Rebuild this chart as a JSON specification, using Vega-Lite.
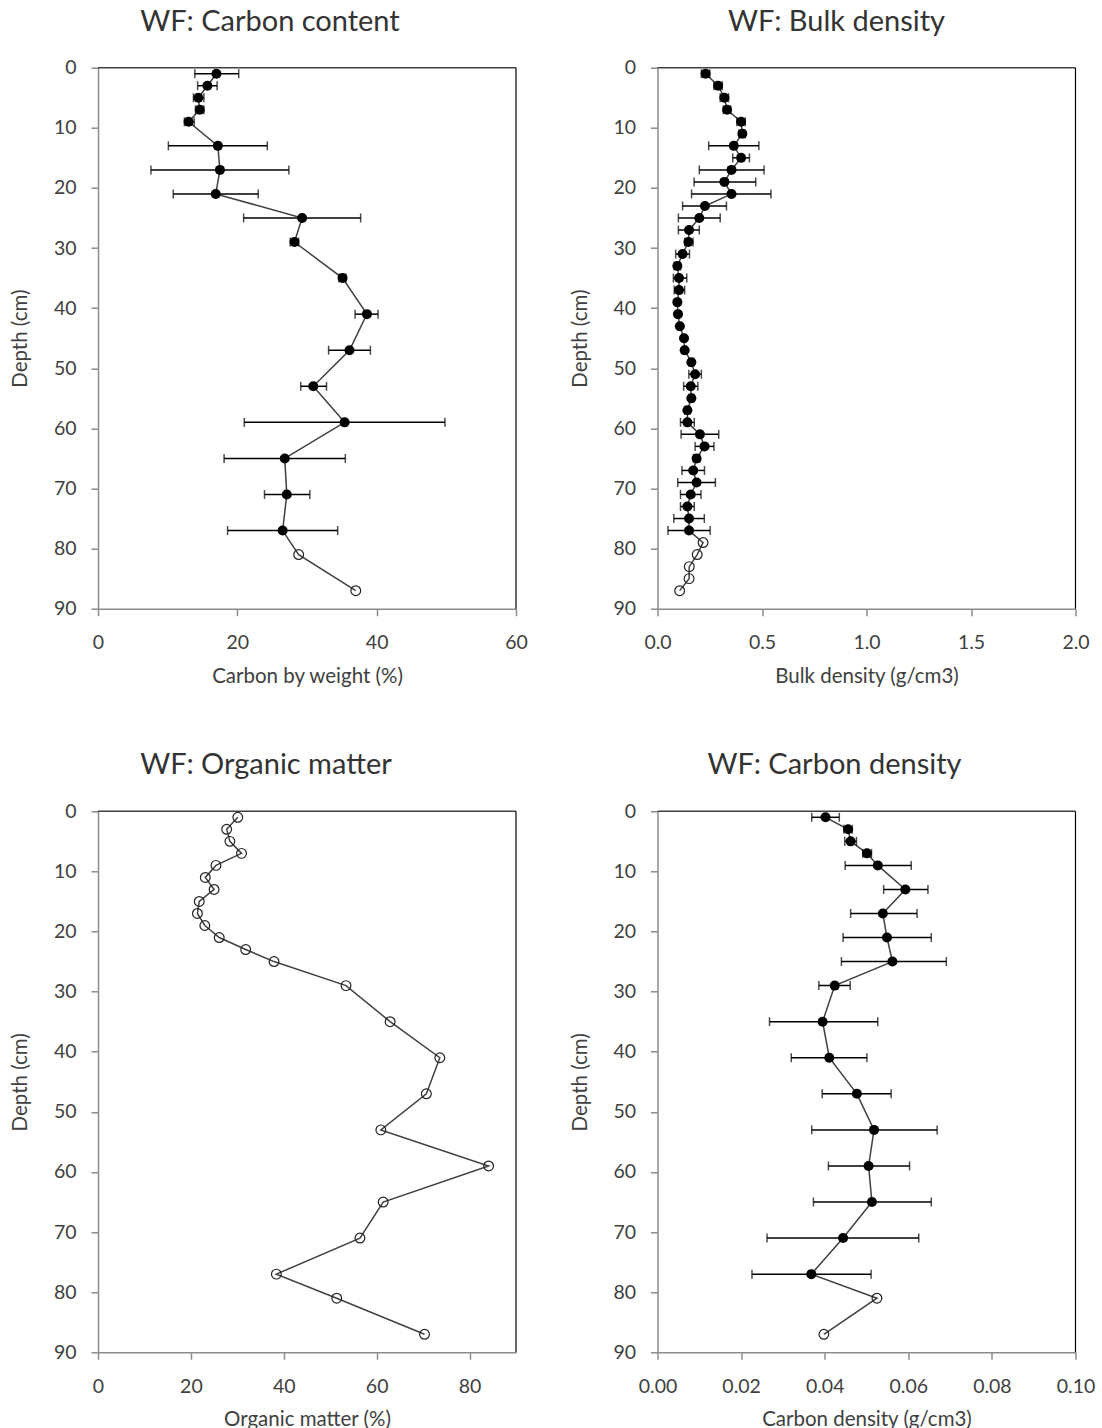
{
  "$schema": "https://vega.github.io/schema/vega-lite/v6.json",
  "padding": {"left": 10, "top": 7.7, "right": 5, "bottom": 5},
  "datasets": {
    "cc": [
      {"depth": 1, "v": 17.0, "lo": 13.9, "hi": 20.2},
      {"depth": 3, "v": 15.7, "lo": 14.3, "hi": 17.1},
      {"depth": 5, "v": 14.4, "lo": 13.7, "hi": 15.2},
      {"depth": 7, "v": 14.6, "lo": 14.0, "hi": 15.2},
      {"depth": 9, "v": 13.0, "lo": 12.4, "hi": 13.8},
      {"depth": 13, "v": 17.2, "lo": 10.1, "hi": 24.3},
      {"depth": 17, "v": 17.5, "lo": 7.6, "hi": 27.4},
      {"depth": 21, "v": 16.9, "lo": 10.8, "hi": 23.0},
      {"depth": 25, "v": 29.3, "lo": 20.9, "hi": 37.7},
      {"depth": 29, "v": 28.2, "lo": 27.6, "hi": 28.8},
      {"depth": 35, "v": 35.1, "lo": 34.6, "hi": 35.6},
      {"depth": 41, "v": 38.6, "lo": 36.9, "hi": 40.2},
      {"depth": 47, "v": 36.1, "lo": 33.1, "hi": 39.1},
      {"depth": 53, "v": 30.9, "lo": 29.1, "hi": 32.8},
      {"depth": 59, "v": 35.4, "lo": 21.0, "hi": 49.8},
      {"depth": 65, "v": 26.8, "lo": 18.1, "hi": 35.5},
      {"depth": 71, "v": 27.1, "lo": 23.9, "hi": 30.4},
      {"depth": 77, "v": 26.5, "lo": 18.6, "hi": 34.4},
      {"depth": 81, "v": 28.8, "open": true},
      {"depth": 87, "v": 37.0, "open": true}
    ],
    "bd": [
      {"depth": 1, "v": 0.23, "lo": 0.21, "hi": 0.25},
      {"depth": 3, "v": 0.29, "lo": 0.27, "hi": 0.31},
      {"depth": 5, "v": 0.32, "lo": 0.30, "hi": 0.34},
      {"depth": 7, "v": 0.333, "lo": 0.315, "hi": 0.35},
      {"depth": 9, "v": 0.40, "lo": 0.38, "hi": 0.42},
      {"depth": 11, "v": 0.406, "lo": 0.39, "hi": 0.42},
      {"depth": 13, "v": 0.365, "lo": 0.245, "hi": 0.485},
      {"depth": 15, "v": 0.40, "lo": 0.36, "hi": 0.44},
      {"depth": 17, "v": 0.354, "lo": 0.20, "hi": 0.51},
      {"depth": 19, "v": 0.32, "lo": 0.175, "hi": 0.47},
      {"depth": 21, "v": 0.354, "lo": 0.163, "hi": 0.543},
      {"depth": 23, "v": 0.227, "lo": 0.12, "hi": 0.33},
      {"depth": 25, "v": 0.20, "lo": 0.10, "hi": 0.30},
      {"depth": 27, "v": 0.151, "lo": 0.10, "hi": 0.20},
      {"depth": 29, "v": 0.148, "lo": 0.13, "hi": 0.17},
      {"depth": 31, "v": 0.12, "lo": 0.087, "hi": 0.153},
      {"depth": 33, "v": 0.095, "lo": 0.08, "hi": 0.11},
      {"depth": 35, "v": 0.103, "lo": 0.076, "hi": 0.14},
      {"depth": 37, "v": 0.103, "lo": 0.08, "hi": 0.13},
      {"depth": 39, "v": 0.095, "lo": 0.085, "hi": 0.105},
      {"depth": 41, "v": 0.098, "lo": 0.09, "hi": 0.106},
      {"depth": 43, "v": 0.107, "lo": 0.098, "hi": 0.116},
      {"depth": 45, "v": 0.127, "lo": 0.117, "hi": 0.137},
      {"depth": 47, "v": 0.13, "lo": 0.12, "hi": 0.14},
      {"depth": 49, "v": 0.162, "lo": 0.15, "hi": 0.174},
      {"depth": 51, "v": 0.18, "lo": 0.15, "hi": 0.21},
      {"depth": 53, "v": 0.159, "lo": 0.125, "hi": 0.193},
      {"depth": 55, "v": 0.162, "lo": 0.15, "hi": 0.174},
      {"depth": 57, "v": 0.143, "lo": 0.13, "hi": 0.156},
      {"depth": 59, "v": 0.143, "lo": 0.11, "hi": 0.176},
      {"depth": 61, "v": 0.203, "lo": 0.113, "hi": 0.293},
      {"depth": 63, "v": 0.225, "lo": 0.18, "hi": 0.27},
      {"depth": 65, "v": 0.187, "lo": 0.172, "hi": 0.202},
      {"depth": 67, "v": 0.171, "lo": 0.117, "hi": 0.225},
      {"depth": 69, "v": 0.187, "lo": 0.097, "hi": 0.277},
      {"depth": 71, "v": 0.159, "lo": 0.11, "hi": 0.208},
      {"depth": 73, "v": 0.143, "lo": 0.11, "hi": 0.176},
      {"depth": 75, "v": 0.151, "lo": 0.078, "hi": 0.224},
      {"depth": 77, "v": 0.151, "lo": 0.05, "hi": 0.252},
      {"depth": 79, "v": 0.218, "open": true},
      {"depth": 81, "v": 0.19, "open": true},
      {"depth": 83, "v": 0.152, "open": true},
      {"depth": 85, "v": 0.151, "open": true},
      {"depth": 87, "v": 0.106, "open": true}
    ],
    "om": [
      {"depth": 1, "v": 30.1, "open": true},
      {"depth": 3, "v": 27.7, "open": true},
      {"depth": 5, "v": 28.4, "open": true},
      {"depth": 7, "v": 30.9, "open": true},
      {"depth": 9, "v": 25.4, "open": true},
      {"depth": 11, "v": 23.1, "open": true},
      {"depth": 13, "v": 25.0, "open": true},
      {"depth": 15, "v": 21.8, "open": true},
      {"depth": 17, "v": 21.4, "open": true},
      {"depth": 19, "v": 23.0, "open": true},
      {"depth": 21, "v": 26.1, "open": true},
      {"depth": 23, "v": 31.8, "open": true},
      {"depth": 25, "v": 37.9, "open": true},
      {"depth": 29, "v": 53.4, "open": true},
      {"depth": 35, "v": 62.9, "open": true},
      {"depth": 41, "v": 73.6, "open": true},
      {"depth": 47, "v": 70.7, "open": true},
      {"depth": 53, "v": 60.9, "open": true},
      {"depth": 59, "v": 84.1, "open": true},
      {"depth": 65, "v": 61.4, "open": true},
      {"depth": 71, "v": 56.4, "open": true},
      {"depth": 77, "v": 38.4, "open": true},
      {"depth": 81, "v": 51.4, "open": true},
      {"depth": 87, "v": 70.3, "open": true}
    ],
    "cd": [
      {"depth": 1, "v": 0.0402, "lo": 0.0369, "hi": 0.0435},
      {"depth": 3, "v": 0.0456, "lo": 0.0446, "hi": 0.0466},
      {"depth": 5, "v": 0.0462, "lo": 0.0448, "hi": 0.0476},
      {"depth": 7, "v": 0.0501, "lo": 0.0491, "hi": 0.0512},
      {"depth": 9, "v": 0.0527, "lo": 0.0449, "hi": 0.0607},
      {"depth": 13, "v": 0.0593, "lo": 0.0541, "hi": 0.0647},
      {"depth": 17, "v": 0.0539, "lo": 0.0462, "hi": 0.0621},
      {"depth": 21, "v": 0.0549, "lo": 0.0444, "hi": 0.0655},
      {"depth": 25, "v": 0.0562, "lo": 0.0440, "hi": 0.0691},
      {"depth": 29, "v": 0.0424, "lo": 0.0386, "hi": 0.0461},
      {"depth": 35, "v": 0.0395, "lo": 0.0268, "hi": 0.0527},
      {"depth": 41, "v": 0.0411, "lo": 0.0320, "hi": 0.0501},
      {"depth": 47, "v": 0.0477, "lo": 0.0394, "hi": 0.0559},
      {"depth": 53, "v": 0.0518, "lo": 0.0369, "hi": 0.0669},
      {"depth": 59, "v": 0.0505, "lo": 0.0409, "hi": 0.0603},
      {"depth": 65, "v": 0.0513, "lo": 0.0373, "hi": 0.0655},
      {"depth": 71, "v": 0.0444, "lo": 0.0262, "hi": 0.0625},
      {"depth": 77, "v": 0.0368, "lo": 0.0226, "hi": 0.0511},
      {"depth": 81, "v": 0.0525, "open": true},
      {"depth": 87, "v": 0.0398, "open": true}
    ]
  },
  "columns": 2,
  "bounds": "flush",
  "spacing": {"column": 141.5, "row": 202.6},
  "concat": [
    {
      "width": 418, "height": 541,
      "title": {"text": "WF: Carbon content", "dx": -37},
      "data": {"name": "cc"},
      "layer": [
        {"mark": {"type": "line", "color": "#404040", "strokeWidth": 1.5},
         "encoding": {
           "x": {"field": "v", "type": "quantitative", "scale": {"domain": [0, 60], "nice": false}, "axis": {"values": [0, 20, 40, 60], "format": "d", "title": "Carbon by weight (%)"}},
           "y": {"field": "depth", "type": "quantitative", "scale": {"domain": [0, 90], "reverse": true, "nice": false}, "axis": {"values": [0, 10, 20, 30, 40, 50, 60, 70, 80, 90], "format": "d", "title": "Depth (cm)"}},
           "order": {"field": "depth"}}},
        {"transform": [{"filter": "isValid(datum.lo)"}],
         "mark": {"type": "errorbar", "ticks": true, "color": "black", "thickness": 1.5, "size": 9},
         "encoding": {"x": {"field": "lo", "type": "quantitative", "title": "Carbon by weight (%)"}, "x2": {"field": "hi"}, "y": {"field": "depth", "type": "quantitative", "title": "Depth (cm)"}}},
        {"transform": [{"filter": "!datum.open"}],
         "mark": {"type": "point", "filled": true, "color": "black", "size": 100, "opacity": 1},
         "encoding": {"x": {"field": "v", "type": "quantitative"}, "y": {"field": "depth", "type": "quantitative"}}},
        {"transform": [{"filter": "datum.open"}],
         "mark": {"type": "point", "filled": false, "color": "#222222", "size": 95, "strokeWidth": 1.2, "opacity": 1},
         "encoding": {"x": {"field": "v", "type": "quantitative"}, "y": {"field": "depth", "type": "quantitative"}}},
        {"data": {"values": [{}]}, "mark": {"type": "rule", "color": "#404040", "strokeWidth": 1.5}, "encoding": {"y": {"datum": 0}}},
        {"data": {"values": [{}]}, "mark": {"type": "rule", "color": "#000000", "strokeWidth": 1.2}, "encoding": {"x": {"datum": 60}}}
      ]
    },
    {
      "width": 418, "height": 541,
      "title": {"text": "WF: Bulk density", "dx": -30},
      "data": {"name": "bd"},
      "layer": [
        {"mark": {"type": "line", "color": "#404040", "strokeWidth": 1.5},
         "encoding": {
           "x": {"field": "v", "type": "quantitative", "scale": {"domain": [0, 2], "nice": false}, "axis": {"values": [0, 0.5, 1, 1.5, 2], "format": ".1f", "title": "Bulk density (g/cm3)"}},
           "y": {"field": "depth", "type": "quantitative", "scale": {"domain": [0, 90], "reverse": true, "nice": false}, "axis": {"values": [0, 10, 20, 30, 40, 50, 60, 70, 80, 90], "format": "d", "title": "Depth (cm)"}},
           "order": {"field": "depth"}}},
        {"transform": [{"filter": "isValid(datum.lo)"}],
         "mark": {"type": "errorbar", "ticks": true, "color": "black", "thickness": 1.5, "size": 9},
         "encoding": {"x": {"field": "lo", "type": "quantitative", "title": "Bulk density (g/cm3)"}, "x2": {"field": "hi"}, "y": {"field": "depth", "type": "quantitative", "title": "Depth (cm)"}}},
        {"transform": [{"filter": "!datum.open"}],
         "mark": {"type": "point", "filled": true, "color": "black", "size": 100, "opacity": 1},
         "encoding": {"x": {"field": "v", "type": "quantitative"}, "y": {"field": "depth", "type": "quantitative"}}},
        {"transform": [{"filter": "datum.open"}],
         "mark": {"type": "point", "filled": false, "color": "#222222", "size": 95, "strokeWidth": 1.2, "opacity": 1},
         "encoding": {"x": {"field": "v", "type": "quantitative"}, "y": {"field": "depth", "type": "quantitative"}}},
        {"data": {"values": [{}]}, "mark": {"type": "rule", "color": "#404040", "strokeWidth": 1.5}, "encoding": {"y": {"datum": 0}}},
        {"data": {"values": [{}]}, "mark": {"type": "rule", "color": "#000000", "strokeWidth": 1.2}, "encoding": {"x": {"datum": 2}}}
      ]
    },
    {
      "width": 418, "height": 541,
      "title": {"text": "WF: Organic matter", "dx": -41},
      "data": {"name": "om"},
      "layer": [
        {"mark": {"type": "line", "color": "#404040", "strokeWidth": 1.5},
         "encoding": {
           "x": {"field": "v", "type": "quantitative", "scale": {"domain": [0, 90], "nice": false}, "axis": {"values": [0, 20, 40, 60, 80], "format": "d", "title": "Organic matter (%)"}},
           "y": {"field": "depth", "type": "quantitative", "scale": {"domain": [0, 90], "reverse": true, "nice": false}, "axis": {"values": [0, 10, 20, 30, 40, 50, 60, 70, 80, 90], "format": "d", "title": "Depth (cm)"}},
           "order": {"field": "depth"}}},
        {"transform": [{"filter": "datum.open"}],
         "mark": {"type": "point", "filled": false, "color": "#222222", "size": 95, "strokeWidth": 1.2, "opacity": 1},
         "encoding": {"x": {"field": "v", "type": "quantitative"}, "y": {"field": "depth", "type": "quantitative"}}},
        {"data": {"values": [{}]}, "mark": {"type": "rule", "color": "#404040", "strokeWidth": 1.5}, "encoding": {"y": {"datum": 0}}},
        {"data": {"values": [{}]}, "mark": {"type": "rule", "color": "#000000", "strokeWidth": 1.2}, "encoding": {"x": {"datum": 90}}}
      ]
    },
    {
      "width": 418, "height": 541,
      "title": {"text": "WF: Carbon density", "dx": -32},
      "data": {"name": "cd"},
      "layer": [
        {"mark": {"type": "line", "color": "#404040", "strokeWidth": 1.5},
         "encoding": {
           "x": {"field": "v", "type": "quantitative", "scale": {"domain": [0, 0.1], "nice": false}, "axis": {"values": [0, 0.02, 0.04, 0.06, 0.08, 0.1], "format": ".2f", "title": "Carbon density (g/cm3)"}},
           "y": {"field": "depth", "type": "quantitative", "scale": {"domain": [0, 90], "reverse": true, "nice": false}, "axis": {"values": [0, 10, 20, 30, 40, 50, 60, 70, 80, 90], "format": "d", "title": "Depth (cm)"}},
           "order": {"field": "depth"}}},
        {"transform": [{"filter": "isValid(datum.lo)"}],
         "mark": {"type": "errorbar", "ticks": true, "color": "black", "thickness": 1.5, "size": 9},
         "encoding": {"x": {"field": "lo", "type": "quantitative", "title": "Carbon density (g/cm3)"}, "x2": {"field": "hi"}, "y": {"field": "depth", "type": "quantitative", "title": "Depth (cm)"}}},
        {"transform": [{"filter": "!datum.open"}],
         "mark": {"type": "point", "filled": true, "color": "black", "size": 100, "opacity": 1},
         "encoding": {"x": {"field": "v", "type": "quantitative"}, "y": {"field": "depth", "type": "quantitative"}}},
        {"transform": [{"filter": "datum.open"}],
         "mark": {"type": "point", "filled": false, "color": "#222222", "size": 95, "strokeWidth": 1.2, "opacity": 1},
         "encoding": {"x": {"field": "v", "type": "quantitative"}, "y": {"field": "depth", "type": "quantitative"}}},
        {"data": {"values": [{}]}, "mark": {"type": "rule", "color": "#404040", "strokeWidth": 1.5}, "encoding": {"y": {"datum": 0}}},
        {"data": {"values": [{}]}, "mark": {"type": "rule", "color": "#000000", "strokeWidth": 1.2}, "encoding": {"x": {"datum": 0.1}}}
      ]
    }
  ],
  "config": {
    "font": "Lato",
    "view": {"stroke": null},
    "axis": {
      "grid": false,
      "domainColor": "#8c8c8c",
      "tickColor": "#8c8c8c",
      "domainWidth": 1.5,
      "tickWidth": 1.5,
      "tickSize": 7,
      "labelFontSize": 19.5,
      "labelColor": "#404040",
      "labelFlush": false,
      "labelOverlap": false,
      "titleFontSize": 20.5,
      "titleColor": "#404040",
      "titleFontWeight": "normal"
    },
    "axisY": {"labelPadding": 15, "titlePadding": 22.5},
    "axisX": {"labelPadding": 18, "titlePadding": 14},
    "title": {"fontSize": 29, "fontWeight": "normal", "color": "#333333", "anchor": "middle", "frame": "group", "offset": 21}
  }
}
